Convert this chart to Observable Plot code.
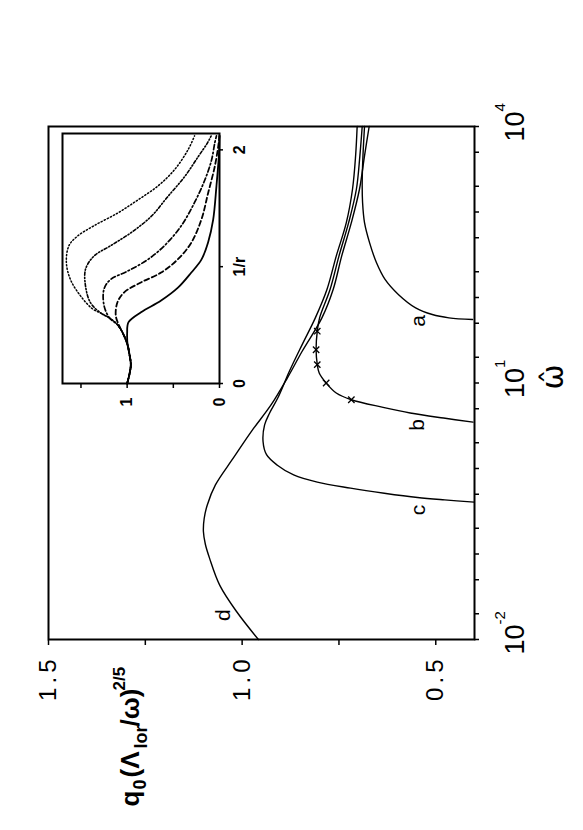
<!DOCTYPE html>
<html>
<head>
<meta charset="utf-8">
<script src="https://cdn.jsdelivr.net/npm/d3@7"></script>
<script src="https://cdn.jsdelivr.net/npm/@observablehq/plot@0.6"></script>
<style>
html, body { margin: 0; padding: 0; background: #fff; }
#page { position: relative; width: 583px; height: 830px; overflow: hidden; background: #fff; }
#rot { position: absolute; left: 0; top: 0; width: 830px; height: 583px; transform-origin: 0 0; transform: translate(0px, 830px) rotate(-90deg); }
#rot > svg { position: absolute; overflow: visible; }
</style>
</head>
<body>
<div id="page"><div id="rot"></div></div>
<script>
// ---- main chart data: omega-hat vs q0 (Lambda_lor / omega)^(2/5) ----
const omegaA = [55.2, 57.8, 63.2, 75.7, 108, 163, 255, 438, 750, 1290, 2210, 4540, 10000];
const qA     = [0.405, 0.466, 0.509, 0.552, 0.596, 0.631, 0.653, 0.671, 0.684, 0.689, 0.690, 0.688, 0.684];
const omegaB = [3.49, 3.89, 4.46, 5.19, 6.37, 7.64, 10.0, 13.1, 16.4, 24.5, 40.4, 57.8, 124, 305, 750, 1845, 4540, 10000];
const qB     = [0.404, 0.480, 0.566, 0.636, 0.718, 0.757, 0.783, 0.801, 0.806, 0.809, 0.806, 0.800, 0.773, 0.750, 0.725, 0.705, 0.696, 0.690];
const omegaBMarks = [6.37, 10.0, 16.4, 24.5, 40.4];
const qBMarks     = [0.718, 0.783, 0.806, 0.809, 0.806];
const omegaC = [0.404, 0.429, 0.458, 0.514, 0.589, 0.692, 0.841, 1.10, 1.45, 2.07, 3.24, 4.46, 6.67, 13.7, 28.1, 57.8, 124, 305, 750, 1845, 4540, 10000];
const qC     = [0.401, 0.477, 0.547, 0.633, 0.720, 0.806, 0.867, 0.910, 0.937, 0.946, 0.942, 0.929, 0.908, 0.878, 0.845, 0.811, 0.781, 0.757, 0.731, 0.715, 0.707, 0.703];
const omegaD = [0.01, 0.0211, 0.0433, 0.0889, 0.13, 0.183, 0.26, 0.375, 0.643, 1.32, 2.72, 5.57, 11.5, 23.5, 57.8, 124, 305, 750, 1845, 4540, 10000];
const qD     = [0.958, 1.014, 1.058, 1.084, 1.095, 1.100, 1.098, 1.090, 1.069, 1.023, 0.976, 0.925, 0.883, 0.845, 0.794, 0.765, 0.743, 0.718, 0.697, 0.684, 0.672];

const curveNames = ["a", "b", "c", "d"];
const curveLabelOmega = [53.3, 3.24, 0.327, 0.0193];
const curveLabelQ = [0.544, 0.549, 0.546, 1.048];

const omegaTicks = [0.01, 0.02, 0.05, 0.1, 0.2, 0.5, 1, 2, 5, 10, 20, 50, 100, 200, 500, 1000, 2000, 5000, 10000];
const omegaLabelValues = [0.01, 10, 10000];
const omegaLabelBase = ["10", "10", "10"];
const omegaLabelExp = ["-2", "1", "4"];
const qTicks = [0.5, 0.75, 1.0, 1.25, 1.5];
const qTickLabels = ["0.5", "", "1.0", "", "1.5"];
const xTitle = "ω̂";
const yTitleParts = ["q", "0", "(Λ", "lor", "/ω)", "2/5"];

// ---- inset data: value vs 1/r ----
const insetSSolid = [0, 0.08, 0.16, 0.25, 0.33, 0.43, 0.525, 0.61, 0.71, 0.82, 0.95, 1.06, 1.21, 1.40, 1.69, 1.97, 2.12];
const insetVSolid = [1.0, 0.975, 0.96, 0.975, 0.995, 1.0, 0.985, 0.85, 0.632, 0.45, 0.305, 0.196, 0.123, 0.069, 0.033, 0.005, 0.0];
const insetSDashed = [0, 0.08, 0.16, 0.25, 0.33, 0.42, 0.496, 0.58, 0.695, 0.78, 0.865, 0.95, 1.064, 1.206, 1.404, 1.631, 1.858, 2.028, 2.12];
const insetVDashed = [1.0, 0.975, 0.96, 0.975, 0.995, 1.04, 1.087, 1.123, 1.105, 1.032, 0.851, 0.632, 0.45, 0.305, 0.196, 0.123, 0.051, 0.014, 0.0];
const insetSDashDot = [0, 0.08, 0.16, 0.25, 0.33, 0.42, 0.5, 0.56, 0.667, 0.81, 0.89, 0.96, 1.06, 1.18, 1.35, 1.55, 1.74, 1.91, 2.06, 2.12];
const insetVDashDot = [1.0, 0.975, 0.96, 0.975, 0.995, 1.04, 1.10, 1.19, 1.25, 1.25, 1.18, 1.0, 0.778, 0.596, 0.414, 0.27, 0.16, 0.087, 0.051, 0.033];
const insetSDashDotDot = [0, 0.08, 0.16, 0.25, 0.33, 0.42, 0.5, 0.56, 0.6, 0.69, 0.83, 0.98, 1.09, 1.18, 1.29, 1.43, 1.6, 1.77, 1.94, 2.06, 2.12];
const insetVDashDotDot = [1.0, 0.975, 0.96, 0.975, 0.995, 1.04, 1.10, 1.19, 1.28, 1.396, 1.45, 1.45, 1.36, 1.178, 0.96, 0.74, 0.56, 0.378, 0.232, 0.13, 0.09];
const insetSDotted = [0, 0.08, 0.16, 0.25, 0.33, 0.42, 0.5, 0.56, 0.6, 0.64, 0.75, 0.89, 1.036, 1.18, 1.26, 1.35, 1.46, 1.57, 1.69, 1.83, 2.0, 2.12];
const insetVDotted = [1.0, 0.975, 0.96, 0.975, 0.995, 1.04, 1.10, 1.19, 1.28, 1.377, 1.505, 1.614, 1.658, 1.63, 1.54, 1.36, 1.10, 0.886, 0.668, 0.487, 0.341, 0.27];
const insetSTicks = [0, 1, 2];
const insetSTickLabels = ["0", "1/r", "2"];
const insetVTicks = [0, 0.5, 1, 1.5];
const insetVTickLabels = ["0", "", "1", ""];

// ---- build tables ----
const rows = (ws, qs) => ws.map((w, i) => ({w, q: qs[i]}));
const srows = (ss, vs) => ss.map((s, i) => ({s, v: vs[i]}));
const curveLabels = curveNames.map((n, i) => ({n, w: curveLabelOmega[i], q: curveLabelQ[i]}));
const omegaLabels = omegaLabelValues.map((w, i) => ({w, base: omegaLabelBase[i], exp: omegaLabelExp[i]}));

const FONT = "'Liberation Sans', Arial, Helvetica, sans-serif";
const baseStyle = {fontFamily: FONT, color: "black", background: "transparent", overflow: "visible"};

// layout of the rotated figure (original orientation: omega horizontal, q vertical)
const ML = 190, MT = 48;
const titleLayout = [
  {u: 23, base: 138, size: 26},
  {u: 40, base: 145, size: 18},
  {u: 52, base: 138, size: 26},
  {u: 81, base: 146, size: 18},
  {u: 103, base: 138, size: 26},
  {u: 139, base: 124, size: 17}
];

const main = Plot.plot({
  width: 830, height: 583,
  marginLeft: ML, marginRight: 127, marginTop: MT, marginBottom: 109,
  style: baseStyle,
  x: {type: "log", domain: [0.01, 10000]},
  y: {domain: [0.4, 1.5]},
  marks: [
    Plot.axisX({ticks: omegaTicks, tickSize: 5, tickFormat: () => "", label: null, strokeWidth: 1.5}),
    Plot.axisY({ticks: qTicks, tickSize: 5, tickPadding: 11, tickFormat: d => qTickLabels[qTicks.indexOf(d)], label: null, fontSize: 24, strokeWidth: 1.5}),
    Plot.frame({strokeWidth: 2}),
    Plot.line(rows(omegaA, qA), {x: "w", y: "q", curve: "catmull-rom", strokeWidth: 1.4}),
    Plot.line(rows(omegaB, qB), {x: "w", y: "q", curve: "catmull-rom", strokeWidth: 1.4}),
    Plot.line(rows(omegaC, qC), {x: "w", y: "q", curve: "catmull-rom", strokeWidth: 1.4}),
    Plot.line(rows(omegaD, qD), {x: "w", y: "q", curve: "catmull-rom", strokeWidth: 1.4}),
    Plot.dot(rows(omegaBMarks, qBMarks), {x: "w", y: "q", symbol: "times", r: 3, stroke: "black", strokeWidth: 1.3}),
    Plot.text(curveLabels, {x: "w", y: "q", text: "n", fontSize: 21}),
    Plot.text(omegaLabels, {x: "w", frameAnchor: "bottom", dy: 49, lineAnchor: "bottom", text: "base", fontSize: 27}),
    Plot.text(omegaLabels, {x: "w", frameAnchor: "bottom", dy: 30, dx: 15, textAnchor: "start", lineAnchor: "bottom", text: "exp", fontSize: 15}),
    Plot.text([xTitle], {frameAnchor: "bottom-left", dx: 440 - ML, dy: 88, lineAnchor: "bottom", text: d => d, fontSize: 30, fontFamily: "'DejaVu Sans', sans-serif"}),
    ...yTitleParts.map((p, i) => Plot.text([p], {
      frameAnchor: "top-left", dx: titleLayout[i].u - ML, dy: titleLayout[i].base - MT,
      textAnchor: "start", lineAnchor: "bottom", text: d => d, fontSize: titleLayout[i].size, fontWeight: "bold"
    }))
  ]
});

const inset = Plot.plot({
  width: 290, height: 197,
  marginLeft: 30, marginRight: 10, marginTop: 5, marginBottom: 35,
  style: baseStyle,
  x: {domain: [0, 2.14]},
  y: {domain: [0, 1.7]},
  marks: [
    Plot.axisX({ticks: insetSTicks, tickSize: 4, tickPadding: 10, tickFormat: d => insetSTickLabels[insetSTicks.indexOf(d)], fontSize: 16, fontWeight: "bold", label: null, strokeWidth: 1.5}),
    Plot.axisY({ticks: insetVTicks, tickSize: 4, tickPadding: 10, tickFormat: d => insetVTickLabels[insetVTicks.indexOf(d)], fontSize: 16, fontWeight: "bold", label: null, strokeWidth: 1.5}),
    Plot.frame({strokeWidth: 2}),
    Plot.line(srows(insetSSolid, insetVSolid), {x: "s", y: "v", curve: "catmull-rom", strokeWidth: 1.8}),
    Plot.line(srows(insetSDashed, insetVDashed), {x: "s", y: "v", curve: "catmull-rom", strokeWidth: 1.8, strokeDasharray: "5,3"}),
    Plot.line(srows(insetSDashDot, insetVDashDot), {x: "s", y: "v", curve: "catmull-rom", strokeWidth: 1.7, strokeDasharray: "5,2.5,1.5,2.5"}),
    Plot.line(srows(insetSDashDotDot, insetVDashDotDot), {x: "s", y: "v", curve: "catmull-rom", strokeWidth: 1.6, strokeDasharray: "3,2,1.2,2,1.2,2"}),
    Plot.line(srows(insetSDotted, insetVDotted), {x: "s", y: "v", curve: "catmull-rom", strokeWidth: 1.5, strokeDasharray: "1.2,2.2"})
  ]
});

// spaced-out numerals on the q axis, as in the original typesetting
d3.select(main).selectAll('[aria-label="y-axis tick label"] text').style("letter-spacing", "4px");

const rot = document.getElementById("rot");
main.style.left = "0px"; main.style.top = "0px";
inset.style.left = "416px"; inset.style.top = "57px";
rot.appendChild(main);
rot.appendChild(inset);
</script>
</body>
</html>
